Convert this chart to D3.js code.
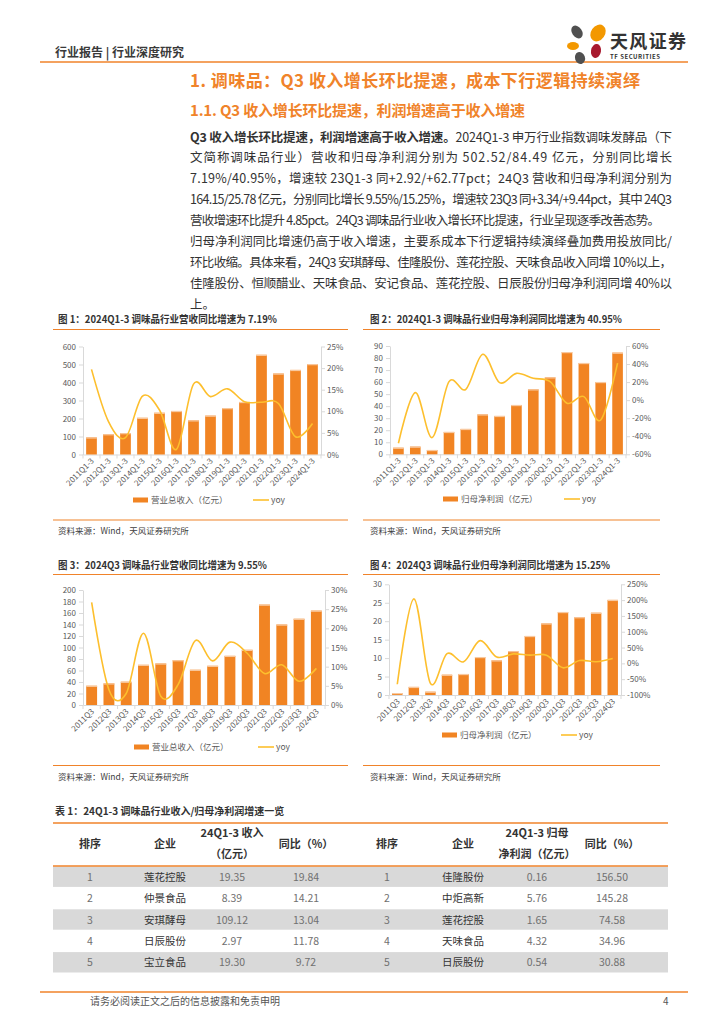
<!DOCTYPE html>
<html>
<head>
<meta charset="utf-8">
<title>调味品行业</title>
<script src="https://cdnjs.cloudflare.com/ajax/libs/d3/7.8.5/d3.min.js"></script>
<style>
    body { margin: 0; background: #fff; }
    svg text { font-family: "Noto Sans CJK SC", "Noto Sans", sans-serif; }
</style>
</head>
<body>
<script>
// ---- data ----
const catQ13 = ['2011Q1-3','2012Q1-3','2013Q1-3','2014Q1-3','2015Q1-3','2016Q1-3','2017Q1-3',
                '2018Q1-3','2019Q1-3','2020Q1-3','2021Q1-3','2022Q1-3','2023Q1-3','2024Q1-3'];
const catQ3 = ['2011Q3','2012Q3','2013Q3','2014Q3','2015Q3','2016Q3','2017Q3',
               '2018Q3','2019Q3','2020Q3','2021Q3','2022Q3','2023Q3','2024Q3'];

const revQ13     = [95, 113, 119, 204, 232, 242, 190, 216, 258, 292, 554, 450, 470, 502.52];
const revQ13Yoy  = [19.7, 7.6, 3.9, 13.5, 10.3, 1.2, 16.3, 13.4, 15.2, 12.2, 12.1, 11.8, 4.1, 7.19];
const profQ13    = [5.5, 6.4, 3.6, 18.6, 21.1, 33.2, 31.9, 41.0, 54.0, 64.0, 85.0, 75.9, 60.1, 84.49];
const profQ13Yoy = [-47.8, 8.3, -41.5, 20.5, 12, 50.8, 19.4, 29.7, 24.2, 20.5, -3.5, 3.9, -22, 40.95];
const revQ3      = [33.5, 37.6, 40.5, 69.9, 72.3, 78.0, 61.3, 68.2, 85.5, 96.0, 174.6, 140, 150, 164.15];
const revQ3Yoy   = [26.8, 4.0, 3.0, 18.7, 2.3, 5.3, 16.8, 11.5, 16.4, 13.5, 8.2, 10.5, 6.2, 9.55];
const profQ3     = [0.54, 2.2, 0.9, 5.5, 5.7, 10.3, 9.4, 11.9, 16.0, 19.4, 22.5, 21.1, 22.3, 25.78];
const profQ3Yoy  = [-66, 204, -63, 31, 5, 72, 20, 30, 26, 26, -14, 9, 5, 15.25];

const ticksL1 = [0, 100, 200, 300, 400, 500, 600];
const ticksR1 = [0, 5, 10, 15, 20, 25];
const ticksL2 = [0, 10, 20, 30, 40, 50, 60, 70, 80, 90];
const ticksR2 = [-60, -40, -20, 0, 20, 40, 60];
const ticksL3 = [0, 20, 40, 60, 80, 100, 120, 140, 160, 180, 200];
const ticksR3 = [0, 5, 10, 15, 20, 25, 30];
const ticksL4 = [0, 5, 10, 15, 20, 25, 30];
const ticksR4 = [-100, -50, 0, 50, 100, 150, 200, 250];

const tblRank      = [1, 2, 3, 4, 5];
const tblRevName   = ['莲花控股', '仲景食品', '安琪酵母', '日辰股份', '宝立食品'];
const tblRevValue  = ['19.35', '8.39', '109.12', '2.97', '19.30'];
const tblRevYoy    = ['19.84', '14.21', '13.04', '11.78', '9.72'];
const tblProfName  = ['佳隆股份', '中炬高新', '莲花控股', '天味食品', '日辰股份'];
const tblProfValue = ['0.16', '5.76', '1.65', '4.32', '0.54'];
const tblProfYoy   = ['156.50', '145.28', '74.58', '34.96', '30.88'];

const bodyLines = [
    '文简称调味品行业）营收和归母净利润分别为 502.52/84.49 亿元，分别同比增长',
    '7.19%/40.95%，增速较 23Q1-3 同+2.92/+62.77pct；24Q3 营收和归母净利润分别为',
    '164.15/25.78 亿元，分别同比增长 9.55%/15.25%，增速较 23Q3 同+3.34/+9.44pct，其中 24Q3',
    '营收增速环比提升 4.85pct。24Q3 调味品行业收入增长环比提速，行业呈现逐季改善态势。',
    '归母净利润同比增速仍高于收入增速，主要系成本下行逻辑持续演绎叠加费用投放同比/',
    '环比收缩。具体来看，24Q3 安琪酵母、佳隆股份、莲花控股、天味食品收入同增 10%以上，',
    '佳隆股份、恒顺醋业、天味食品、安记食品、莲花控股、日辰股份归母净利润同增 40%以',
    '上。'
];

// ---- colours ----
const ORANGE = '#f0832a';
const BAR = '#f18423';
const LINE = '#fdbf2d';
const AXIS = '#d9d9d9';
const TXT = '#595959';

const svg = d3.select('body').append('svg').attr('width', 724).attr('height', 1024);

// ---- page header ----
svg.append('text').attr('x', 55).attr('y', 57).attr('font-size', 12).attr('font-weight', 'bold')
    .attr('fill', '#3a3a3a').text('行业报告 | 行业深度研究');
svg.append('line').attr('x1', 40).attr('x2', 688).attr('y1', 62).attr('y2', 62)
    .attr('stroke', ORANGE).attr('stroke-width', 1.5);

// logo
const logo = svg.append('g');
[[577, 32, 5, 7, -35, '#505050'], [598, 33, 7, 9, 35, '#f39800'], [573, 46, 6, 4, 0, '#f39800'],
 [596, 51, 5, 7, 10, '#a8192e'], [580, 58, 5, 6, -20, '#505050']].forEach(p => {
    logo.append('ellipse').attr('cx', p[0]).attr('cy', p[1]).attr('rx', p[2]).attr('ry', p[3])
        .attr('transform', `rotate(${p[4]},${p[0]},${p[1]})`).attr('fill', p[5]);
});
logo.append('text').attr('x', 610).attr('y', 48).attr('font-size', 18).attr('font-weight', 'bold')
    .attr('fill', '#333').attr('textLength', 76).text('天风证券');
logo.append('text').attr('x', 610).attr('y', 59).attr('font-size', 6).attr('font-weight', 'bold')
    .attr('fill', '#333').attr('textLength', 50).text('TF SECURITIES');

// ---- titles ----
svg.append('text').attr('x', 190).attr('y', 87).attr('font-size', 17).attr('font-weight', 'bold')
    .attr('fill', ORANGE).attr('textLength', 450)
    .text('1. 调味品：Q3 收入增长环比提速，成本下行逻辑持续演绎');
svg.append('text').attr('x', 190).attr('y', 116).attr('font-size', 15).attr('font-weight', 'bold')
    .attr('fill', ORANGE).attr('textLength', 335)
    .text('1.1. Q3 收入增长环比提速，利润增速高于收入增速');

// ---- body paragraph ----
const first = svg.append('text').attr('x', 190).attr('y', 141.5).attr('font-size', 12.5)
    .attr('fill', '#333').attr('textLength', 482).attr('lengthAdjust', 'spacing');
first.append('tspan').attr('font-weight', 'bold').text('Q3 收入增长环比提速，利润增速高于收入增速。');
first.append('tspan').text('2024Q1-3 申万行业指数调味发酵品（下');
bodyLines.forEach((t, i) => {
    const el = svg.append('text').attr('x', 190).attr('y', 141.5 + (i + 1) * 20.9)
        .attr('font-size', 12.5).attr('fill', '#333').text(t);
    if (i < bodyLines.length - 1) el.attr('textLength', i === 3 ? 470 : 482).attr('lengthAdjust', 'spacing');
});

// ---- chart helper ----
function drawChart(o) {
    const g = svg.append('g');
    // caption
    g.append('text').attr('x', o.capX).attr('y', o.capY).attr('font-size', 10).attr('font-weight', 'bold')
        .attr('fill', '#333').attr('textLength', o.capW).attr('lengthAdjust', 'spacingAndGlyphs').text(o.caption);
    g.append('line').attr('x1', o.lineX0).attr('x2', o.lineX1).attr('y1', o.capLineY).attr('y2', o.capLineY)
        .attr('stroke', ORANGE).attr('stroke-width', 1.2);
    g.append('line').attr('x1', o.lineX0).attr('x2', o.lineX1).attr('y1', o.srcLineY).attr('y2', o.srcLineY)
        .attr('stroke', ORANGE).attr('stroke-width', 1.2);
    g.append('text').attr('x', o.capX).attr('y', o.srcLineY + 14).attr('font-size', 8.5)
        .attr('fill', '#404040').text('资料来源：Wind，天风证券研究所');

    const x = d3.scaleBand().domain(o.cats).range([o.x0, o.x1]).paddingInner(0.37).paddingOuter(0.185);
    const yL = d3.scaleLinear().domain(d3.extent(o.ticksL)).range([o.yBot, o.yTop]);
    const yR = d3.scaleLinear().domain(d3.extent(o.ticksR)).range([o.yBot, o.yTop]);

    const axL = g.append('g').attr('transform', `translate(${o.x0},0)`)
        .call(d3.axisLeft(yL).tickValues(o.ticksL).tickSize(4).tickPadding(3).tickSizeOuter(0));
    const axR = g.append('g').attr('transform', `translate(${o.x1},0)`)
        .call(d3.axisRight(yR).tickValues(o.ticksR).tickSize(4).tickPadding(2).tickSizeOuter(0)
            .tickFormat(d => d + '%'));
    const axB = g.append('g').attr('transform', `translate(0,${o.yBot})`)
        .call(d3.axisBottom(x).tickSize(0).tickFormat(''));
    [axL, axR, axB].forEach(a => {
        a.selectAll('path, line').attr('stroke', AXIS);
        a.selectAll('text').attr('fill', TXT).attr('font-size', 8)
            .attr('font-family', '"Noto Sans CJK SC", "Noto Sans", sans-serif');
    });

    // category boundary ticks
    const half = x.step() * x.paddingInner() / 2;
    const bounds = o.cats.map(c => x(c) - half).concat([x(o.cats[o.cats.length - 1]) + x.bandwidth() + half]);
    g.selectAll(null).data(bounds).enter().append('line')
        .attr('x1', d => d).attr('x2', d => d).attr('y1', o.yBot).attr('y2', o.yBot + 4).attr('stroke', AXIS);

    // x labels
    g.selectAll(null).data(o.cats).enter().append('text')
        .attr('transform', d => `translate(${x(d) + x.bandwidth() / 2 + 3},${o.yBot + 7}) rotate(-45)`)
        .attr('text-anchor', 'end').attr('font-size', 8).attr('fill', TXT).text(d => d);

    // bars
    g.selectAll(null).data(o.cats).enter().append('rect')
        .attr('x', d => x(d)).attr('width', x.bandwidth())
        .attr('y', (d, i) => yL(o.bars[i])).attr('height', (d, i) => o.yBot - yL(o.bars[i]))
        .attr('fill', BAR);
    g.selectAll(null).data(o.cats).enter().append('rect')
        .attr('x', d => x(d)).attr('width', x.bandwidth())
        .attr('y', (d, i) => yL(o.bars[i])).attr('height', 1.2)
        .attr('fill', '#f8c9a0');

    // yoy line
    const ln = d3.line().x((d, i) => x(o.cats[i]) + x.bandwidth() / 2).y(d => yR(d))
        .curve(d3.curveCatmullRom.alpha(0));
    g.append('path').datum(o.line).attr('d', ln).attr('fill', 'none')
        .attr('stroke', LINE).attr('stroke-width', 1.6);

    // legend
    g.append('rect').attr('x', o.legX).attr('y', o.legY - 2.5).attr('width', 15).attr('height', 5).attr('fill', BAR);
    g.append('text').attr('x', o.legX + 18).attr('y', o.legY + 3).attr('font-size', 8.5).attr('fill', TXT).text(o.barName);
    g.append('line').attr('x1', o.legX2).attr('x2', o.legX2 + 16).attr('y1', o.legY).attr('y2', o.legY)
        .attr('stroke', LINE).attr('stroke-width', 1.6);
    g.append('text').attr('x', o.legX2 + 18).attr('y', o.legY + 3).attr('font-size', 8.5).attr('fill', TXT).text('yoy');
}

drawChart({
    caption: '图 1：2024Q1-3 调味品行业营收同比增速为 7.19%', capX: 58, capY: 323, capW: 219,
    lineX0: 53, lineX1: 348, capLineY: 329.5, srcLineY: 520,
    cats: catQ13, bars: revQ13, line: revQ13Yoy, ticksL: ticksL1, ticksR: ticksR1,
    x0: 83, x1: 321, yTop: 346.5, yBot: 454.5,
    legX: 133, legX2: 253, legY: 500, barName: '营业总收入（亿元）'
});
drawChart({
    caption: '图 2：2024Q1-3 调味品行业归母净利润同比增速为 40.95%', capX: 370, capY: 323, capW: 252,
    lineX0: 363, lineX1: 660, capLineY: 329.5, srcLineY: 520,
    cats: catQ13, bars: profQ13, line: profQ13Yoy, ticksL: ticksL2, ticksR: ticksR2,
    x0: 390, x1: 626, yTop: 346, yBot: 454.3,
    legX: 443, legX2: 564, legY: 499, barName: '归母净利润（亿元）'
});
drawChart({
    caption: '图 3：2024Q3 调味品行业营收同比增速为 9.55%', capX: 58, capY: 569, capW: 209,
    lineX0: 53, lineX1: 348, capLineY: 574.5, srcLineY: 765.5,
    cats: catQ3, bars: revQ3, line: revQ3Yoy, ticksL: ticksL3, ticksR: ticksR3,
    x0: 83, x1: 325, yTop: 590, yBot: 705,
    legX: 134, legX2: 258, legY: 747, barName: '营业总收入（亿元）'
});
drawChart({
    caption: '图 4：2024Q3 调味品行业归母净利润同比增速为 15.25%', capX: 370, capY: 569, capW: 240,
    lineX0: 363, lineX1: 660, capLineY: 574.5, srcLineY: 765.5,
    cats: catQ3, bars: profQ3, line: profQ3Yoy, ticksL: ticksL4, ticksR: ticksR4,
    x0: 389, x1: 621, yTop: 584.3, yBot: 695,
    legX: 442, legX2: 561, legY: 735, barName: '归母净利润（亿元）'
});

// ---- table ----
const tbl = svg.append('g');
tbl.append('text').attr('x', 55).attr('y', 815).attr('font-size', 10).attr('font-weight', 'bold')
    .attr('fill', '#333').text('表 1：24Q1-3 调味品行业收入/归母净利润增速一览');
tbl.append('line').attr('x1', 53).attr('x2', 668).attr('y1', 823).attr('y2', 823)
    .attr('stroke', ORANGE).attr('stroke-width', 1.5);

const colX = [90, 165, 232, 306, 387, 463, 537, 612];
const rowY = d3.scaleBand().domain(tblRank).range([866, 973]);
tbl.selectAll(null).data(tblRank.filter((d, i) => i % 2 === 0)).enter().append('rect')
    .attr('x', 53).attr('width', 615).attr('y', d => rowY(d) + 0.5).attr('height', rowY.bandwidth() - 1)
    .attr('fill', '#d9d9d9');
tbl.append('line').attr('x1', 53).attr('x2', 668).attr('y1', 866).attr('y2', 866)
    .attr('stroke', ORANGE).attr('stroke-width', 1.5);

const headers = [['排序'], ['企业'], ['24Q1-3 收入', '（亿元）'], ['同比（%）'],
                 ['排序'], ['企业'], ['24Q1-3 归母', '净利润（亿元）'], ['同比（%）']];
headers.forEach((h, i) => {
    h.forEach((t, j) => {
        tbl.append('text').attr('x', colX[i]).attr('y', h.length === 1 ? 848 : 837 + j * 20.5)
            .attr('text-anchor', 'middle').attr('font-size', 11).attr('font-weight', 'bold')
            .attr('fill', '#333').text(t);
    });
});
const cols = [tblRank, tblRevName, tblRevValue, tblRevYoy, tblRank, tblProfName, tblProfValue, tblProfYoy];
cols.forEach((col, i) => {
    tbl.selectAll(null).data(col).enter().append('text')
        .attr('x', colX[i]).attr('y', (d, k) => rowY(tblRank[k]) + rowY.bandwidth() / 2 + 4)
        .attr('text-anchor', 'middle').attr('font-size', 10.5)
        .attr('fill', (i === 1 || i === 5) ? '#333' : '#707070').text(d => d);
});

// ---- footer ----
svg.append('line').attr('x1', 40).attr('x2', 688).attr('y1', 992).attr('y2', 992)
    .attr('stroke', ORANGE).attr('stroke-width', 1.5);
svg.append('text').attr('x', 90).attr('y', 1005).attr('font-size', 10).attr('fill', '#555')
    .text('请务必阅读正文之后的信息披露和免责申明');
svg.append('text').attr('x', 663).attr('y', 1005).attr('font-size', 10).attr('fill', '#555').text('4');
</script>
</body>
</html>
